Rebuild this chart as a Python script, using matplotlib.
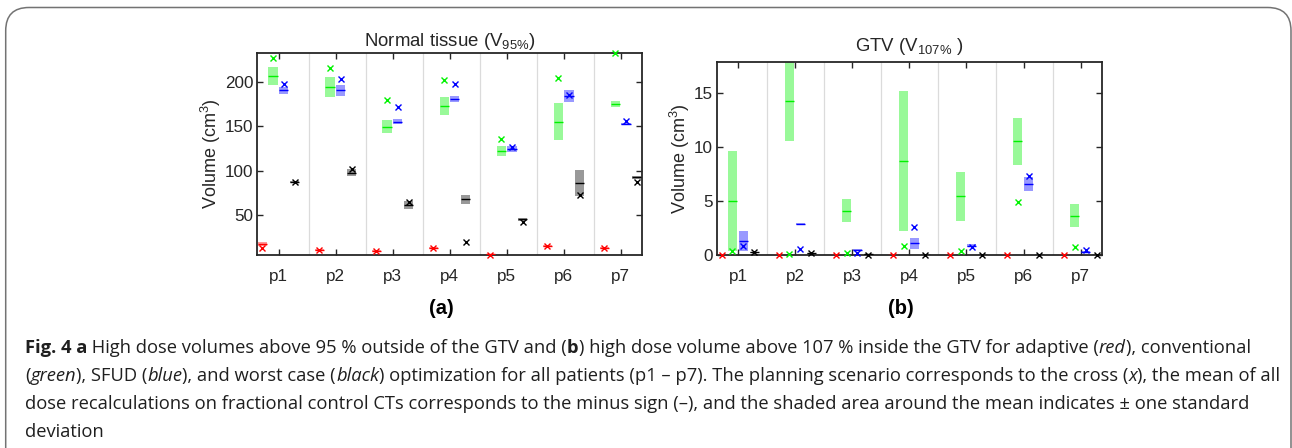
import matplotlib
matplotlib.use('Agg')
import numpy as np
import matplotlib.pyplot as plt
from matplotlib.patches import FancyBboxPatch

plt.rcParams['font.family'] = ['Liberation Sans', 'DejaVu Sans']
plt.rcParams['mathtext.fontset'] = 'custom'
plt.rcParams['mathtext.rm'] = 'Liberation Sans'
plt.rcParams['mathtext.it'] = 'Liberation Sans:italic'
plt.rcParams['mathtext.bf'] = 'Liberation Sans:bold'

patients = ['p1', 'p2', 'p3', 'p4', 'p5', 'p6', 'p7']
methods = ['adaptive', 'conventional', 'SFUD', 'worst case']

# (a) normal tissue V95% [cm3]
nt_plan = {
    'adaptive': [12.3, 10.4, 9.3, 12.3, 4.5, 14.9, 12.3],
    'conventional': [226.7, 215.5, 179.3, 201.9, 135.3, 204.2, 232.5],
    'SFUD': [197.7, 203.0, 171.4, 197.4, 127.0, 185.0, 155.6],
    'worst case': [86.8, 101.4, 64.9, 19.8, 41.6, 72.5, 87.5],
}
nt_mean = {
    'adaptive': [17.2, 10.6, 9.5, 13.0, 5.5, 15.3, 13.0],
    'conventional': [206.8, 194.0, 149.5, 172.9, 122.1, 155.2, 175.5],
    'SFUD': [190.6, 190.6, 155.2, 181.2, 124.7, 184.2, 152.6],
    'worst case': [87.0, 97.7, 61.2, 67.9, 45.0, 86.3, 92.4],
}
nt_std = {
    'adaptive': [2.4, 0.8, 0.8, 1.0, 0.5, 1.0, 0.8],
    'conventional': [10.3, 11.1, 7.5, 10.0, 5.5, 21.1, 3.2],
    'SFUD': [4.1, 6.4, 2.8, 3.4, 3.4, 6.6, 0.8],
    'worst case': [1.2, 4.2, 4.7, 5.1, 1.5, 14.5, 1.5],
}

# (b) GTV V107% [cm3]
gtv_plan = {
    'adaptive': [0, 0, 0, 0, 0, 0, 0],
    'conventional': [0.43, 0.1, 0.25, 0.86, 0.37, 4.89, 0.8],
    'SFUD': [0.86, 0.55, 0.2, 2.64, 0.77, 7.35, 0.5],
    'worst case': [0.27, 0.25, 0.05, 0, 0, 0, 0],
}
gtv_mean = {
    'adaptive': [0, 0, 0, 0, 0, 0, 0],
    'conventional': [5.04, 14.2, 4.12, 8.7, 5.44, 10.52, 3.65],
    'SFUD': [1.32, 2.89, 0.49, 1.1, 0.89, 6.58, 0.3],
    'worst case': [0.3, 0.2, 0.08, 0, 0, 0, 0],
}
gtv_std = {
    'adaptive': [0, 0, 0, 0, 0, 0, 0],
    'conventional': [4.61, 3.66, 1.07, 6.44, 2.28, 2.16, 1.08],
    'SFUD': [0.88, 0.05, 0.12, 0.48, 0.12, 0.62, 0.08],
    'worst case': [0.05, 0.05, 0.03, 0, 0, 0, 0],
}

colors = {'adaptive': (1, 0, 0), 'conventional': (0, 0.95, 0),
          'SFUD': (0, 0, 1), 'worst case': (0, 0, 0)}
offsets = {'adaptive': -0.29, 'conventional': -0.1, 'SFUD': 0.09, 'worst case': 0.28}
BAR_W = 0.16
AX_COL = (0.15, 0.15, 0.15)


def panel(ax, plan, mean, std, ylim, yticks, title, sep_off, title_pad):
    pos = np.arange(1, len(patients) + 1)
    for s in pos[:-1] + sep_off:
        ax.axvline(s, color=(0.86, 0.86, 0.86), lw=0.9, zorder=0)
    for m in methods:
        x = pos + offsets[m]
        mu = np.array(mean[m])
        sd = np.array(std[m])
        c = colors[m]
        ax.bar(x, 2 * sd, bottom=mu - sd, width=BAR_W, color=c, alpha=0.4,
               linewidth=0, zorder=2)
        ax.hlines(mu, x - BAR_W / 2, x + BAR_W / 2, color=c, lw=1.0, zorder=3)
        ax.plot(x, plan[m], 'x', color=c, ms=5, mew=1.0, ls='none',
                zorder=4, clip_on=False)
    ax.set_xlim(0.625, 7.37)
    ax.set_ylim(*ylim)
    ax.set_xticks(pos)
    ax.set_xticklabels(patients)
    ax.set_yticks(yticks)
    ax.tick_params(direction='in', length=4, width=1.0, top=True, right=True,
                   labelsize=12.3, colors=AX_COL, pad=10)
    ax.tick_params(axis='y', pad=3)
    for sp in ax.spines.values():
        sp.set_color(AX_COL)
        sp.set_linewidth(1.3)
    ax.set_ylabel('Volume (cm$^3$)', fontsize=13, color=AX_COL, labelpad=1)
    ax.set_title(title, fontsize=13.4, color=AX_COL, pad=title_pad)


fig = plt.figure(figsize=(12.92, 4.48), dpi=100)
W, H = 1292, 448

ax_a = fig.add_axes([257.3 / W, 1 - 255 / H, (642 - 257.3) / W, (255 - 52.7) / H])
panel(ax_a, nt_plan, nt_mean, nt_std, (4.9, 233), [50, 100, 150, 200],
      r'Normal tissue (V$_{95\%}$)', 0.53, 5)

ax_b = fig.add_axes([716.7 / W, 1 - 255.3 / H, (1101.7 - 716.7) / W, (255.3 - 61.7) / H])
panel(ax_b, gtv_plan, gtv_mean, gtv_std, (0, 17.86), [0, 5, 10, 15],
      r'GTV (V$_{107\%}$ )', 0.51, 7.5)

fig.text(441 / W, 1 - 308 / H, '(a)', ha='center', va='center',
         fontsize=14.5, fontweight='bold')
fig.text(901 / W, 1 - 308 / H, '(b)', ha='center', va='center',
         fontsize=14.5, fontweight='bold')

# rounded frame around the figure
frame = FancyBboxPatch((5.7 / W, -0.1), (1291 - 5.7) / W, 1 - 7.5 / H + 0.1,
                       boxstyle='round,pad=0,rounding_size=0.018',
                       transform=fig.transFigure, fill=False,
                       edgecolor=(0.45, 0.45, 0.45), lw=1.1,
                       mutation_aspect=W / H)
fig.add_artist(frame)

# caption, mixed styles chained piece by piece
cap = fig.add_axes([0, 0, 1, 1])
cap.axis('off')
cap.set_zorder(-1)
CAP_FONT = ['Open Sans', 'DejaVu Sans']
CAP_COL = (0.12, 0.12, 0.12)
CAP_X = 25
styles = {'n': {}, 'b': {'fontweight': 'bold'}, 'i': {'fontstyle': 'italic'}}

caption = [
    [('Fig. 4 a', 'b'), (' High dose volumes above 95 % outside of the GTV and (', 'n'),
     ('b', 'b'), (') high dose volume above 107 % inside the GTV for adaptive (', 'n'),
     ('red', 'i'), ('), conventional', 'n')],
    [('(', 'n'), ('green', 'i'), ('), SFUD (', 'n'), ('blue', 'i'),
     ('), and worst case (', 'n'), ('black', 'i'),
     (') optimization for all patients (p1 \u2013 p7). The planning scenario corresponds to the cross (', 'n'),
     ('x', 'i'), ('), the mean of all', 'n')],
    [('dose recalculations on fractional control CTs corresponds to the minus sign (\u2013), '
      'and the shaded area around the mean indicates \u00b1 one standard', 'n')],
    [('deviation', 'n')],
]
baselines = [353, 381, 409, 437]

# pick the caption size so that the third line ends where it does in the figure
renderer = fig.canvas.get_renderer()
probe = cap.text(0, 0, caption[2][0][0], fontsize=12, family=CAP_FONT)
CAP_SIZE = 12 * (1242 - CAP_X) / probe.get_window_extent(renderer).width
probe.remove()

for line, yb in zip(caption, baselines):
    prev = None
    for txt, st in line:
        kw = dict(fontsize=CAP_SIZE, family=CAP_FONT, color=CAP_COL, **styles[st])
        if prev is None:
            prev = cap.text(CAP_X / W, 1 - yb / H, txt, transform=fig.transFigure,
                            ha='left', va='baseline', **kw)
        else:
            prev = cap.annotate(txt, xy=(1, 0), xycoords=prev, ha='left',
                                va='bottom', **kw)

fig.savefig('out.png', dpi=100)
